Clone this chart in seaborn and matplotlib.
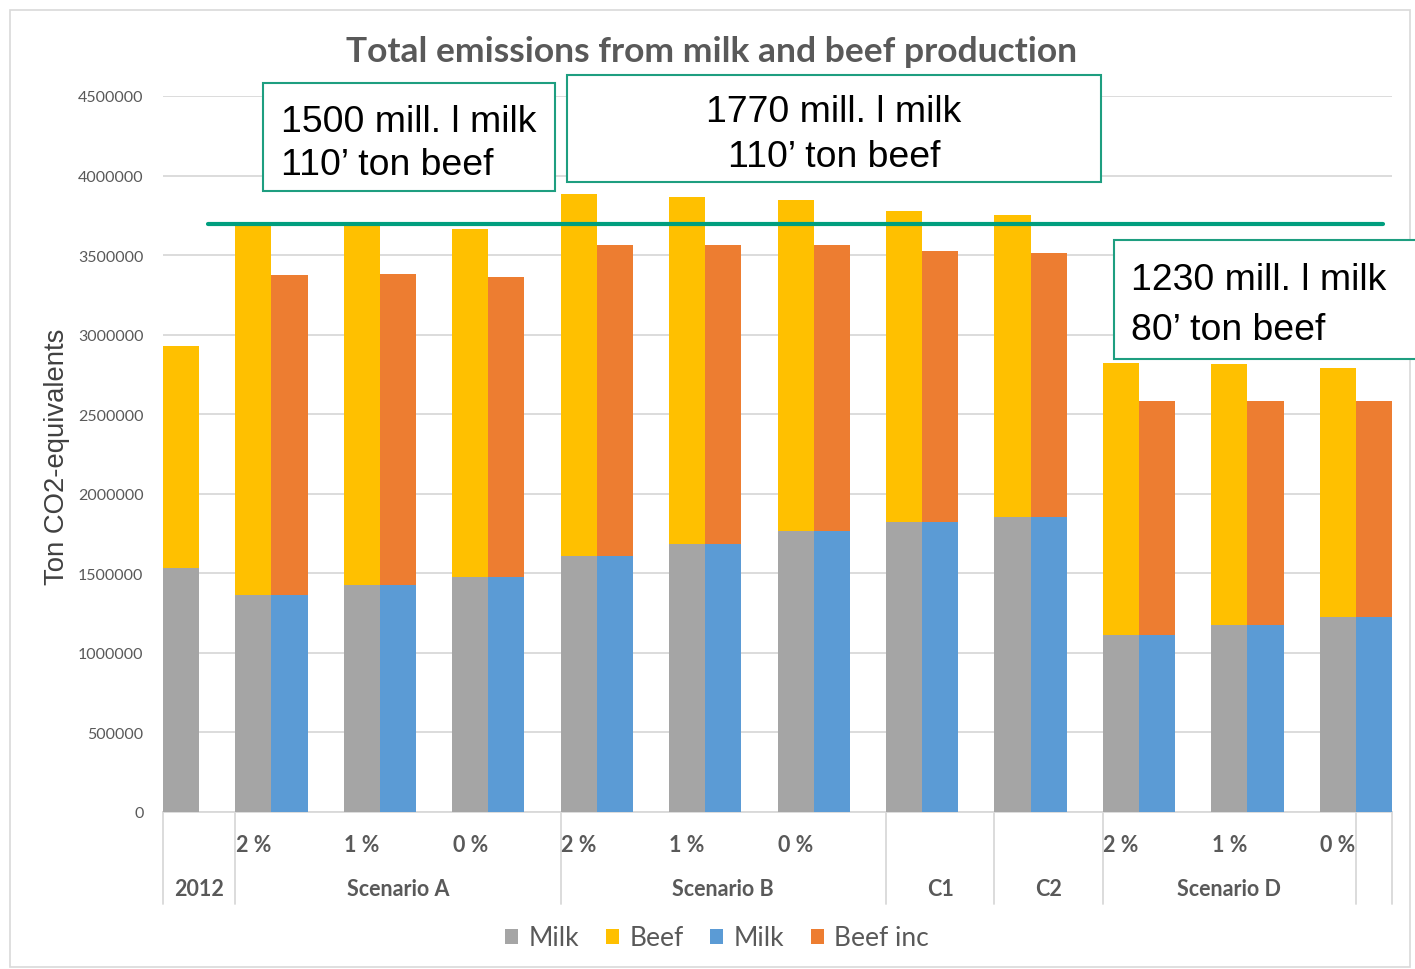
import matplotlib
matplotlib.use("Agg")
import matplotlib.pyplot as plt
from matplotlib.patches import Rectangle, Patch
import pandas as pd
import seaborn as sns

# Scenario groups along the bottom axis and how many cases each holds
groups = ["2012", "Scenario A", "Scenario B", "C1", "C2", "Scenario D"]
group_sizes = [1, 3, 3, 1, 1, 3]
growth_labels = ["", "2 %", "1 %", "0 %", "2 %", "1 %", "0 %", "", "", "2 %", "1 %", "0 %"]

# Emissions (ton CO2-eq) per case: milk and beef as stacked segments
milk = [1533000, 1365000, 1426000, 1474000, 1606000, 1684000, 1766000,
        1824000, 1857000, 1113000, 1174000, 1224000]
beef = [1397000, 2330000, 2269000, 2188000, 2278000, 2180000, 2079000,
        1952000, 1898000, 1711000, 1640000, 1569000]
# Second bar of each case: milk plus beef with increased efficiency
milk_inc = [None, 1365000, 1426000, 1474000, 1606000, 1684000, 1766000,
            1824000, 1857000, 1113000, 1174000, 1224000]
beef_inc = [None, 2007000, 1957000, 1888000, 1959000, 1881000, 1799000,
            1699000, 1658000, 1471000, 1410000, 1360000]

reference_level = 3698000
y_ticks = list(range(0, 4500001, 500000))

notes = [
    ("1500 mill. l milk", "110’ ton beef"),
    ("1770 mill. l milk", "110’ ton beef"),
    ("1230 mill. l milk", "80’ ton beef"),
]

COL = {"Milk": "#A5A5A5", "Beef": "#FFC000", "Milk inc": "#5B9BD5", "Beef inc": "#ED7D31"}
TXT = "#595959"
GRID = "#D9D9D9"
TEAL = "#009E7E"

# Build slot layout: one slot per bar, blank slot between cases
slots, rows, case_slot, case_end = [], [], [], []
n_cases = len(milk)
for i in range(n_cases):
    s = f"s{len(slots)}"
    slots.append(s)
    case_slot.append(len(slots) - 1)
    rows.append(dict(slot=s, kind="base", bottom=milk[i], total=milk[i] + beef[i]))
    if beef_inc[i] is not None:
        s = f"s{len(slots)}"
        slots.append(s)
        rows.append(dict(slot=s, kind="inc", bottom=milk_inc[i], total=milk_inc[i] + beef_inc[i]))
    if i < n_cases - 1:
        slots.append(f"s{len(slots)}")
    case_end.append(len(slots) - 1)
df = pd.DataFrame(rows)

sns.set_theme(style="white")
plt.rcParams["font.family"] = ["Lato", "DejaVu Sans"]

W, H = 1415, 970
fig = plt.figure(figsize=(W / 100, H / 100), dpi=100)
ax = fig.add_axes([163 / W, 1 - 813 / H, 1229 / W, 716 / H])

# outer chart frame
fig.patches.append(Rectangle((10 / W, 1 - 968 / H), 1400 / W, 957 / H, transform=fig.transFigure,
                             fill=False, edgecolor="#D9D9D9", linewidth=1.2))

sns.barplot(data=df, x="slot", y="total", hue="kind", order=slots, dodge=False, width=1.0,
            palette={"base": COL["Beef"], "inc": COL["Beef inc"]}, saturation=1,
            errorbar=None, legend=False, linewidth=0, ax=ax, zorder=2)
sns.barplot(data=df, x="slot", y="bottom", hue="kind", order=slots, dodge=False, width=1.0,
            palette={"base": COL["Milk"], "inc": COL["Milk inc"]}, saturation=1,
            errorbar=None, legend=False, linewidth=0, ax=ax, zorder=3)

ax.set_xlim(-0.5, len(slots) - 0.5)
ax.set_ylim(0, 4500000)
ax.set_yticks(y_ticks)
ax.set_yticklabels([str(v) for v in y_ticks], color=TXT, fontsize=11.5)
ax.set_xticks([])
ax.set_xlabel("")
ax.set_ylabel("")
ax.tick_params(axis="y", length=0, pad=14)
ax.grid(axis="y", color=GRID, linewidth=1.3, zorder=0)
ax.set_axisbelow(True)
for side in ["left", "right", "top"]:
    ax.spines[side].set_visible(False)
ax.spines["bottom"].set_color(GRID)
ax.spines["bottom"].set_linewidth(1.3)

# reference line across the chart
ax.axhline(reference_level, xmin=45 / 1229, xmax=1220 / 1229, color=TEAL, linewidth=3, zorder=5)

# two-level category axis
xt = ax.get_xaxis_transform()
for i, lab in enumerate(growth_labels):
    if lab:
        ax.text(case_slot[i], -0.045, lab, transform=xt, ha="center", va="center",
                fontsize=15.5, fontweight="bold", color=TXT)
bounds = [-0.5]
start = 0
for g, n in zip(groups, group_sizes):
    last_case = start + n - 1
    left = case_slot[start] - 0.5
    right = case_end[last_case] + 0.5 if last_case < n_cases - 1 else case_slot[last_case] + 0.5
    ax.text((left + right) / 2, -0.107, g, transform=xt, ha="center", va="center",
            fontsize=15.5, fontweight="bold", color=TXT)
    bounds.append(right)
    start += n
bounds.append(len(slots) - 0.5)
for b in bounds:
    ax.plot([b, b], [0, -0.1285], transform=xt, color=GRID, linewidth=1.3, clip_on=False)

# title and axis title
fig.text(712 / W, 1 - 52 / H, "Total emissions from milk and beef production", ha="center",
         va="center", fontsize=25.5, fontweight="bold", color=TXT)
fig.text(57 / W, 1 - 457 / H, "Ton CO2-equivalents", rotation=90, ha="center", va="center",
         fontsize=19.8, color="#404040", family=["Liberation Sans", "DejaVu Sans"])

# annotation boxes
boxes = [
    (263, 84, 555, 192, 281, (132, 175), "left"),
    (567, 76, 1101, 183, 834, (122, 167), "center"),
    (1114, 241, 1440, 360, 1131, (290, 340), "left"),
]
for (x0, y0, x1, y1, tx, (b1, b2), ha), (l1, l2) in zip(boxes, notes):
    fig.patches.append(Rectangle((x0 / W, 1 - y1 / H), (x1 - x0) / W, (y1 - y0) / H,
                                 transform=fig.transFigure, fill=True, facecolor="white",
                                 edgecolor="#1E9E80", linewidth=1.5, zorder=6))
    for line, base in ((l1, b1), (l2, b2)):
        fig.text(tx / W, 1 - base / H, line, ha=ha, va="baseline", fontsize=26.9,
                 color="black", family=["Liberation Sans", "DejaVu Sans"], zorder=7)

# legend
handles = [Patch(facecolor=COL[k], edgecolor="none") for k in ["Milk", "Beef", "Milk inc", "Beef inc"]]
fig.legend(handles, ["Milk", "Beef", "Milk", "Beef inc"], loc="center",
           bbox_to_anchor=(717 / W, 1 - 939 / H), ncol=4, frameon=False, fontsize=19,
           handlelength=0.5, handleheight=0.5, handletextpad=0.4, columnspacing=1.0,
           labelcolor=TXT)

fig.savefig("out.png", dpi=100)
